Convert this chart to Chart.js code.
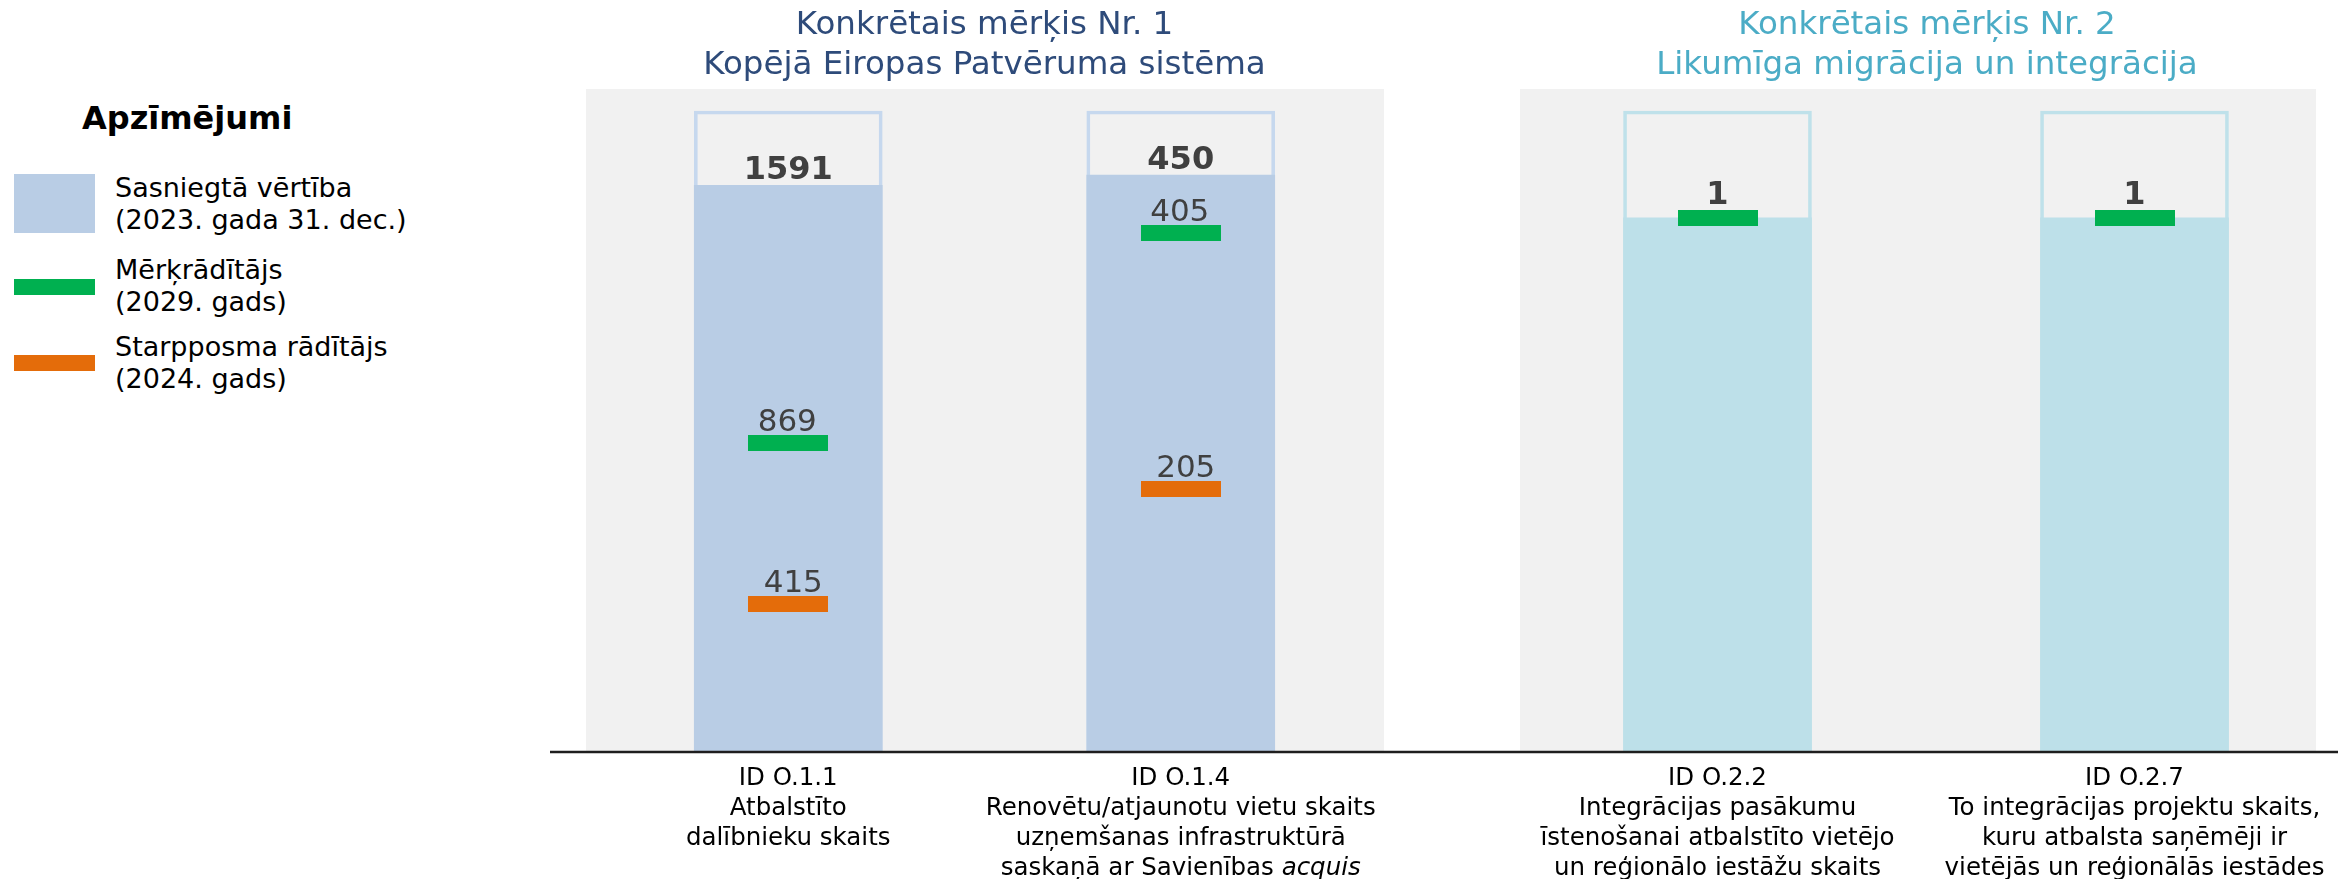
<!DOCTYPE html>
<html lang="lv">
<head>
<meta charset="utf-8">
<script src="https://cdn.jsdelivr.net/npm/chart.js@4.4.0/dist/chart.umd.min.js"></script>
<style>
  html, body { margin: 0; padding: 0; background: #fff; }
  body { width: 2351px; height: 879px; position: relative; overflow: hidden;
         font-family: "DejaVu Sans", Verdana, sans-serif; color: #000; }
  .legend-title { position: absolute; left: 82px; top: 98px; font-size: 32px; line-height: 40px; font-weight: bold; }
  .sw { position: absolute; left: 14px; width: 81px; }
  .lt { position: absolute; left: 115px; font-size: 27px; line-height: 32px; white-space: nowrap; }
  #wrap1 { position: absolute; left: 550px; top: 0; }
  #wrap2 { position: absolute; left: 1452px; top: 0; }
</style>
</head>
<body>
  <div class="legend-title">Apzīmējumi</div>
  <div class="sw" style="top:174px;height:59px;background:#B9CDE5"></div>
  <div class="lt" style="top:172px">Sasniegtā vērtība<br>(2023. gada 31. dec.)</div>
  <div class="sw" style="top:279px;height:16px;background:#00B050"></div>
  <div class="lt" style="top:254px">Mērķrādītājs<br>(2029. gads)</div>
  <div class="sw" style="top:355px;height:16px;background:#E46C0A"></div>
  <div class="lt" style="top:331px">Starpposma rādītājs<br>(2024. gads)</div>

  <div id="wrap1"><canvas id="chart1" width="902" height="879"></canvas></div>
  <div id="wrap2"><canvas id="chart2" width="893" height="879"></canvas></div>

<script>
// rādītāji
const categoryIds = ['ID O.1.1', 'ID O.1.4', 'ID O.2.2', 'ID O.2.7']
const categoryNames = [
  ['Atbalstīto', 'dalībnieku skaits'],
  ['Renovētu/atjaunotu vietu skaits', 'uzņemšanas infrastruktūrā', 'saskaņā ar Savienības acquis'],
  ['Integrācijas pasākumu', 'īstenošanai atbalstīto vietējo', 'un reģionālo iestāžu skaits'],
  ['To integrācijas projektu skaits,', 'kuru atbalsta saņēmēji ir', 'vietējās un reģionālās iestādes'],
]
const achieved = [1591, 450, 1, 1]        // sasniegtā vērtība 2023. gada 31. dec.
const target2029 = [869, 405, 1, 1]       // mērķrādītājs
const interim2024 = [415, 205, null, 1]   // starpposma rādītājs
const frameTop = [1800, 500, 1.2, 1.2]    // katra stabiņa skalas augša (rāmis)
const groupTitles = [
  ['Konkrētais mērķis Nr. 1', 'Kopējā Eiropas Patvēruma sistēma'],
  ['Konkrētais mērķis Nr. 2', 'Likumīga migrācija un integrācija'],
]
const groupMembers = [[0, 1], [2, 3]]
const italicWords = ['acquis']

const FONT = '"DejaVu Sans", Verdana, sans-serif'
// panelis: pelēkā fona atkāpes no zīmēšanas laukuma, ass līnijas gals
const groupStyle = [
  {title: '#2E4B7A', fill: '#B9CDE5', frame: '#C6D8EE',
   pad: {left: 42, right: 75}, panel: {left: -6, right: -7}, axisEnd: 902},
  {title: '#4BACC6', fill: '#BDE0E9', frame: '#BFE1EA',
   pad: {left: 57, right: 0}, panel: {left: 11, right: 27}, axisEnd: 886},
]

Chart.defaults.font.family = FONT
Chart.defaults.animation = false

function markerImage(color) {
  const c = document.createElement('canvas')
  c.width = 80
  c.height = 16
  const g = c.getContext('2d')
  g.fillStyle = color
  g.fillRect(0, 0, 80, 16)
  return c
}
const greenMark = markerImage('#00B050')
const orangeMark = markerImage('#E46C0A')

// teksta rinda centrā, ar slīprakstu izvēlētiem vārdiem
function drawMixedLine(ctx, text, cx, y, size) {
  const normal = size + 'px ' + FONT
  const italic = 'italic ' + size + 'px ' + FONT
  const words = text.split(' ')
  const parts = words.map((w, i) => ({t: (i ? ' ' : '') + w, it: italicWords.includes(w)}))
  let total = 0
  parts.forEach(p => { ctx.font = p.it ? italic : normal; p.w = ctx.measureText(p.t).width; total += p.w })
  let x = cx - total / 2
  parts.forEach(p => { ctx.font = p.it ? italic : normal; ctx.fillText(p.t, x, y); x += p.w })
}

const panelPlugin = {
  id: 'panel',
  beforeDatasetsDraw(chart) {
    const {ctx, chartArea: a} = chart
    const p = chart.options.plugins.panel.inset
    ctx.save()
    ctx.fillStyle = '#F1F1F1'
    ctx.fillRect(a.left + p.left, a.top, a.right - a.left - p.left - p.right, a.bottom - a.top)
    ctx.restore()
  },
  afterDatasetsDraw(chart) {
    const ctx = chart.ctx
    const idx = chart.options.plugins.panel.members
    const tMeta = chart.getDatasetMeta(0)
    const iMeta = chart.getDatasetMeta(1)
    const aMeta = chart.getDatasetMeta(2)
    ctx.save()
    ctx.fillStyle = '#404040'
    ctx.textAlign = 'center'
    ctx.textBaseline = 'alphabetic'
    idx.forEach((k, j) => {
      const bar = aMeta.data[j]
      let top = bar.y
      const tp = tMeta.data[j]
      if (target2029[k] != null && tp.y - 8 < top) top = tp.y - 8
      ctx.font = 'bold 32px ' + FONT
      ctx.fillText(String(achieved[k]), bar.x, top - 6)
      ctx.font = '31px ' + FONT
      if (target2029[k] != null && target2029[k] !== achieved[k]) {
        ctx.fillText(String(target2029[k]), tp.x - 1, tp.y - 12)
      }
      const ip = iMeta.data[j]
      if (interim2024[k] != null && interim2024[k] !== achieved[k]) {
        ctx.fillText(String(interim2024[k]), ip.x + 5, ip.y - 12)
      }
    })
    ctx.restore()
  },
  afterDraw(chart) {
    const ctx = chart.ctx
    const x = chart.scales.x
    const opts = chart.options.plugins.panel
    const b = chart.chartArea.bottom
    ctx.save()
    // kategoriju nosaukumi
    ctx.fillStyle = '#000'
    ctx.textAlign = 'left'
    ctx.textBaseline = 'middle'
    opts.members.forEach((k, j) => {
      const cx = x.getPixelForTick(j)
      const lines = [categoryIds[k]].concat(categoryNames[k])
      lines.forEach((ln, n) => drawMixedLine(ctx, ln, cx, b + 27 + n * 30, 24.5))
    })
    // ass
    ctx.strokeStyle = '#1E1E1E'
    ctx.lineWidth = 2.5
    ctx.beginPath()
    ctx.moveTo(0, b)
    ctx.lineTo(opts.axisEnd, b)
    ctx.stroke()
    ctx.restore()
  }
}

function makeChart(canvasId, g) {
  const members = groupMembers[g]
  const st = groupStyle[g]
  const rel = arr => members.map(k => arr[k] == null ? null : arr[k] / frameTop[k])
  return new Chart(document.getElementById(canvasId), {
    type: 'bar',
    data: {
      labels: members.map(k => categoryIds[k]),
      datasets: [
        {type: 'line', label: 'Mērķrādītājs (2029. gads)', data: rel(target2029),
         showLine: false, pointStyle: greenMark, pointRadius: 1, pointHoverRadius: 1},
        {type: 'line', label: 'Starpposma rādītājs (2024. gads)', data: rel(interim2024),
         showLine: false, pointStyle: orangeMark, pointRadius: 1, pointHoverRadius: 1},
        {label: 'Sasniegtā vērtība (2023. gada 31. dec.)', data: rel(achieved),
         backgroundColor: st.fill, borderWidth: 0, barThickness: 188, grouped: false},
        {label: 'rāmis', data: members.map(k => frameTop[k] / frameTop[k]),
         backgroundColor: 'rgba(0,0,0,0)', borderColor: st.frame, borderWidth: 3,
         borderSkipped: 'bottom', barThickness: 188, grouped: false},
      ]
    },
    options: {
      responsive: false,
      layout: {padding: {left: st.pad.left, right: st.pad.right, top: 0, bottom: 0}},
      scales: {
        x: {
          grid: {display: false, drawTicks: false},
          border: {display: false},
          ticks: {display: false},
          afterFit: s => { s.height = 127 }
        },
        y: {display: false, min: 0, max: 1.0343}
      },
      plugins: {
        legend: {display: false},
        tooltip: {enabled: false},
        title: {
          display: true,
          text: groupTitles[g],
          color: st.title,
          font: {size: 32.5, weight: 'normal', lineHeight: 40 / 32.5},
          padding: {top: 6, bottom: 3}
        },
        panel: {members: members, inset: st.panel, axisEnd: st.axisEnd}
      }
    },
    plugins: [panelPlugin]
  })
}

makeChart('chart1', 0)
makeChart('chart2', 1)
</script>
</body>
</html>
